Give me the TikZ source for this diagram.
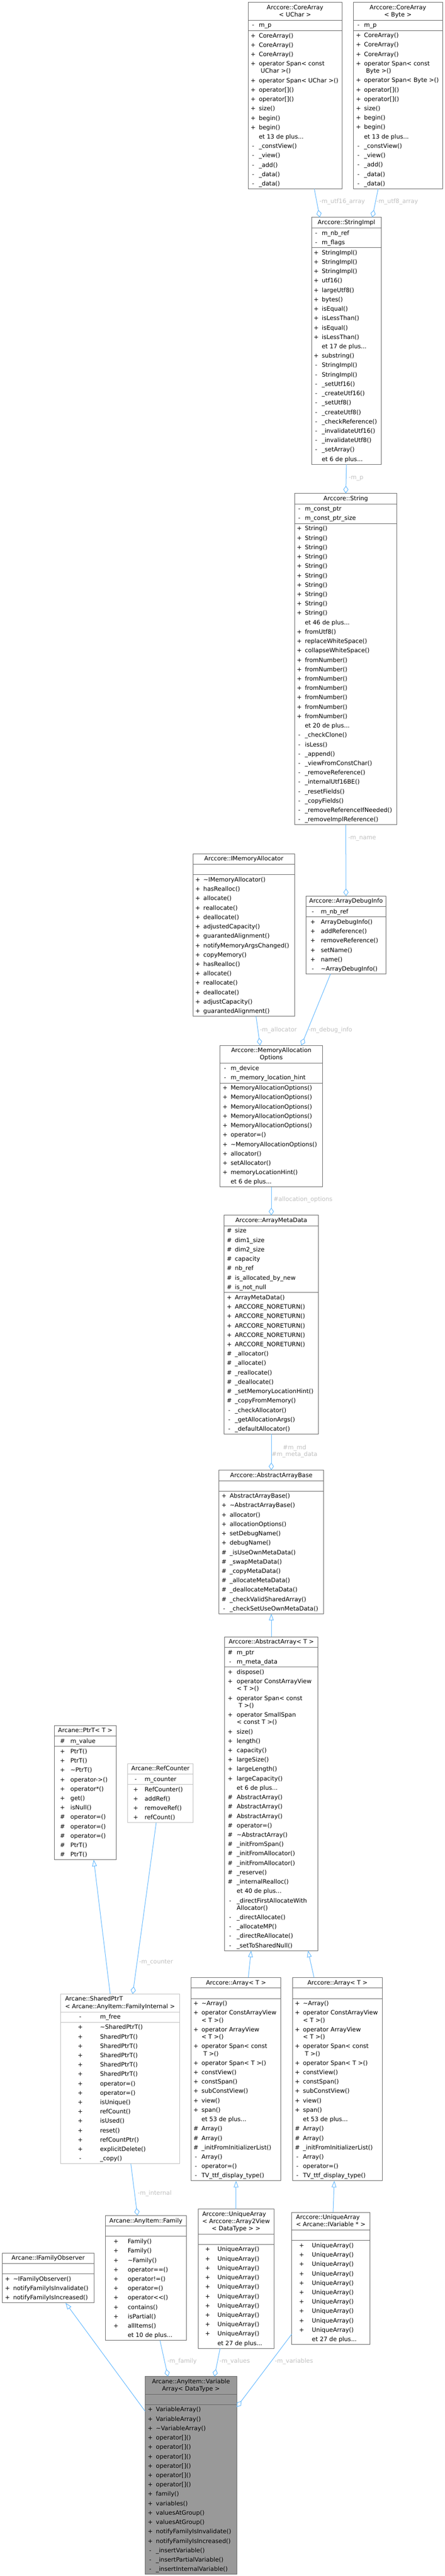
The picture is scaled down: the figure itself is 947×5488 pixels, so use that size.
\documentclass[tikz,border=0pt]{standalone}
\usepackage{fontspec}
\setmainfont{DejaVu Sans}
\usepackage{tikz}
\usetikzlibrary{arrows.meta}
\definecolor{edgeblue}{HTML}{63B8FF}
\definecolor{boxline}{HTML}{666666}
\definecolor{boxlight}{HTML}{BFBFBF}
\definecolor{curfill}{HTML}{999999}
\definecolor{lblgray}{HTML}{C0C0C0}

% class box layout: width, symbol column, name column
\newlength\cbw
\newlength\cbs
\newlength\cbn
\def\sepcol{boxline}
\newcommand{\rowstrut}{\vrule height 14pt depth 6pt width 0pt}
\newcommand{\contstrut}{\vrule height 8.5pt depth 6pt width 0pt}
\newcommand{\mrow}[2]{\hbox to\cbw{\rowstrut\hbox to 2\cbs{\hss#1\hss}\hskip\dimexpr\cbn-2\cbs\relax\relax#2\hfil}}
\newcommand{\mrowii}[3]{\mrow{#1}{#2}\hbox to\cbw{\contstrut\hskip\cbn\relax#3\hfil}}
\newcommand{\rep}[3]{\foreach \k in {1,...,#1}{\mrow{#2}{#3}}}
\newcommand{\more}[1]{\mrow{}{et #1 de plus...}}
\newcommand{\blankrow}{\hbox to\cbw{\rowstrut\hfil}}
\newcommand{\tline}[1]{\hbox to\cbw{\hfil\rowstrut#1\hfil}}
\newcommand{\ttitle}[2]{\hbox to\cbw{\hfil\vbox{\offinterlineskip\halign{##\hfil\cr\rowstrut#1\cr\contstrut\hfil#2\cr}}\hfil}}
\newcommand{\tttitle}[3]{\hbox to\cbw{\hfil\vbox{\offinterlineskip\halign{##\hfil\cr\rowstrut#1\cr\contstrut#2\cr\contstrut\hfil#3\cr}}\hfil}}
\newcommand{\sep}{{\color{\sepcol}\hrule height 1pt}}
\newcommand{\classbody}[6]{\setlength\cbw{#1pt}\setlength\cbs{#2pt}\setlength\cbn{#3pt}%
  \vbox{\offinterlineskip\kern1pt#4\kern1pt\sep\kern.5pt#5\kern.5pt\sep\kern.5pt#6\kern.5pt}}

\begin{document}
\begin{tikzpicture}[x=1pt,y=-1pt]
	\tikzset{
		classnode/.style={draw=boxline, line width=1pt, fill=white, inner sep=0pt, outer sep=0pt, anchor=north west, font=\fontsize{12.7}{20}\selectfont},
		lightnode/.style={classnode, draw=boxlight, execute at begin node={\def\sepcol{boxlight}}},
		curnode/.style={classnode, fill=curfill},
		agg/.style={draw=edgeblue, line width=1.1pt, -{Diamond[open, length=16pt, width=11pt]}},
		inh/.style={draw=edgeblue, line width=1.1pt, {Triangle[open, length=14pt, width=10pt]}-},
		elabel/.style={text=lblgray, inner sep=0pt, anchor=west, font=\fontsize{12.7}{15}\selectfont}
	}
	\useasboundingbox (0,0) rectangle (947,5488);
	
	% Core arrays and strings
	\node (coreUChar) at (528,5) [classnode] {\classbody{200}{11}{23}
		{\ttitle{Arccore::CoreArray}{< UChar >}}
		{\mrow{-}{m\_p}}
		{\rep{3}{+}{CoreArray()}\mrowii{+}{operator Span< const}{ UChar >()}\mrow{+}{operator Span< UChar >()}
		 \rep{2}{+}{operator[]()}\mrow{+}{size()}\rep{2}{+}{begin()}\more{13}
		 \mrow{-}{\_constView()}\mrow{-}{\_view()}\mrow{-}{\_add()}\rep{2}{-}{\_data()}}};
	\node (coreByte) at (752,5) [classnode] {\classbody{190}{11}{23}
		{\ttitle{Arccore::CoreArray}{< Byte >}}
		{\mrow{-}{m\_p}}
		{\rep{3}{+}{CoreArray()}\mrowii{+}{operator Span< const}{ Byte >()}\mrow{+}{operator Span< Byte >()}
		 \rep{2}{+}{operator[]()}\mrow{+}{size()}\rep{2}{+}{begin()}\more{13}
		 \mrow{-}{\_constView()}\mrow{-}{\_view()}\mrow{-}{\_add()}\rep{2}{-}{\_data()}}};
	\node (stringImpl) at (663,463) [classnode] {\classbody{149}{10}{22}
		{\tline{Arccore::StringImpl}}
		{\mrow{-}{m\_nb\_ref}\mrow{-}{m\_flags}}
		{\rep{3}{+}{StringImpl()}\mrow{+}{utf16()}\mrow{+}{largeUtf8()}\mrow{+}{bytes()}
		 \mrow{+}{isEqual()}\mrow{+}{isLessThan()}\mrow{+}{isEqual()}\mrow{+}{isLessThan()}
		 \more{17}\mrow{+}{substring()}\rep{2}{-}{StringImpl()}
		 \mrow{-}{\_setUtf16()}\mrow{-}{\_createUtf16()}\mrow{-}{\_setUtf8()}\mrow{-}{\_createUtf8()}
		 \mrow{-}{\_checkReference()}\mrow{-}{\_invalidateUtf16()}\mrow{-}{\_invalidateUtf8()}
		 \mrow{-}{\_setArray()}\more{6}}};
	\node (string) at (627,1051) [classnode] {\classbody{218}{10}{22}
		{\tline{Arccore::String}}
		{\mrow{-}{m\_const\_ptr}\mrow{-}{m\_const\_ptr\_size}}
		{\rep{10}{+}{String()}\more{46}\mrow{+}{fromUtf8()}\mrow{+}{replaceWhiteSpace()}
		 \mrow{+}{collapseWhiteSpace()}\rep{7}{+}{fromNumber()}\more{20}
		 \mrow{-}{\_checkClone()}\mrow{-}{isLess()}\mrow{-}{\_append()}\mrow{-}{\_viewFromConstChar()}
		 \mrow{-}{\_removeReference()}\mrow{-}{\_internalUtf16BE()}\mrow{-}{\_resetFields()}
		 \mrow{-}{\_copyFields()}\mrow{-}{\_removeReferenceIfNeeded()}\mrow{-}{\_removeImplReference()}}};
	
	% Allocation
	\node (imemAlloc) at (411,1819) [classnode] {\classbody{216}{10}{22}
		{\tline{Arccore::IMemoryAllocator}}
		{\blankrow}
		{\mrow{+}{\textasciitilde IMemoryAllocator()}\mrow{+}{hasRealloc()}\mrow{+}{allocate()}
		 \mrow{+}{reallocate()}\mrow{+}{deallocate()}\mrow{+}{adjustedCapacity()}
		 \mrow{+}{guarantedAlignment()}\mrow{+}{notifyMemoryArgsChanged()}\mrow{+}{copyMemory()}
		 \mrow{+}{hasRealloc()}\mrow{+}{allocate()}\mrow{+}{reallocate()}\mrow{+}{deallocate()}
		 \mrow{+}{adjustCapacity()}\mrow{+}{guarantedAlignment()}}};
	\node (arrayDebug) at (651,1909) [classnode] {\classbody{171}{15}{32}
		{\tline{Arccore::ArrayDebugInfo}}
		{\mrow{-}{m\_nb\_ref}}
		{\mrow{+}{ArrayDebugInfo()}\mrow{+}{addReference()}\mrow{+}{removeReference()}
		 \mrow{+}{setName()}\mrow{+}{name()}\mrow{-}{\textasciitilde ArrayDebugInfo()}}};
	\node (memAllocOpt) at (468,2227) [classnode] {\classbody{219}{11}{23}
		{\ttitle{Arccore::MemoryAllocation}{Options}}
		{\mrow{-}{m\_device}\mrow{-}{m\_memory\_location\_hint}}
		{\rep{5}{+}{MemoryAllocationOptions()}\mrow{+}{operator=()}
		 \mrow{+}{\textasciitilde MemoryAllocationOptions()}\mrow{+}{allocator()}\mrow{+}{setAllocator()}
		 \mrow{+}{memoryLocationHint()}\more{6}}};
	\node (arrayMeta) at (477,2589) [classnode] {\classbody{201}{11}{23}
		{\tline{Arccore::ArrayMetaData}}
		{\mrow{\#}{size}\mrow{\#}{dim1\_size}\mrow{\#}{dim2\_size}\mrow{\#}{capacity}
		 \mrow{\#}{nb\_ref}\mrow{\#}{is\_allocated\_by\_new}\mrow{\#}{is\_not\_null}}
		{\mrow{+}{ArrayMetaData()}\rep{5}{+}{ARCCORE\_NORETURN()}
		 \mrow{\#}{\_allocator()}\mrow{\#}{\_allocate()}\mrow{\#}{\_reallocate()}\mrow{\#}{\_deallocate()}
		 \mrow{\#}{\_setMemoryLocationHint()}\mrow{\#}{\_copyFromMemory()}
		 \mrow{-}{\_checkAllocator()}\mrow{-}{\_getAllocationArgs()}\mrow{-}{\_defaultAllocator()}}};
	
	% Array hierarchy
	\node (absArrayBase) at (466,3132) [classnode] {\classbody{223}{11}{23}
		{\tline{Arccore::AbstractArrayBase}}
		{\blankrow}
		{\mrow{+}{AbstractArrayBase()}\mrow{+}{\textasciitilde AbstractArrayBase()}\mrow{+}{allocator()}
		 \mrow{+}{allocationOptions()}\mrow{+}{setDebugName()}\mrow{+}{debugName()}
		 \mrow{\#}{\_isUseOwnMetaData()}\mrow{\#}{\_swapMetaData()}\mrow{\#}{\_copyMetaData()}
		 \mrow{\#}{\_allocateMetaData()}\mrow{\#}{\_deallocateMetaData()}
		 \mrow{\#}{\_checkValidSharedArray()}\mrow{-}{\_checkSetUseOwnMetaData()}}};
	\node (absArray) at (478,3487) [classnode] {\classbody{199}{12}{26}
		{\tline{Arccore::AbstractArray< T >}}
		{\mrow{\#}{m\_ptr}\mrow{-}{m\_meta\_data}}
		{\mrow{+}{dispose()}\mrowii{+}{operator ConstArrayView}{< T >()}
		 \mrowii{+}{operator Span< const}{ T >()}\mrowii{+}{operator SmallSpan}{< const T >()}
		 \mrow{+}{size()}\mrow{+}{length()}\mrow{+}{capacity()}\mrow{+}{largeSize()}
		 \mrow{+}{largeLength()}\mrow{+}{largeCapacity()}\more{6}
		 \rep{3}{\#}{AbstractArray()}\mrow{\#}{operator=()}\mrow{\#}{\textasciitilde AbstractArray()}
		 \mrow{\#}{\_initFromSpan()}\rep{2}{\#}{\_initFromAllocator()}\mrow{\#}{\_reserve()}
		 \mrow{\#}{\_internalRealloc()}\more{40}
		 \mrowii{-}{\_directFirstAllocateWith}{Allocator()}\mrow{-}{\_directAllocate()}
		 \mrow{-}{\_allocateMP()}\mrow{-}{\_directReAllocate()}\mrow{-}{\_setToSharedNull()}}};
	\foreach \name/\x in {arrayA/407,arrayB/623}
		\node (\name) at (\x,4213) [classnode] {\classbody{191}{10}{22}
			{\tline{Arccore::Array< T >}}
			{\blankrow}
			{\mrow{+}{\textasciitilde Array()}\mrowii{+}{operator ConstArrayView}{< T >()}
			 \mrowii{+}{operator ArrayView}{< T >()}\mrowii{+}{operator Span< const}{ T >()}
			 \mrow{+}{operator Span< T >()}\mrow{+}{constView()}\mrow{+}{constSpan()}
			 \mrow{+}{subConstView()}\mrow{+}{view()}\mrow{+}{span()}\more{53}
			 \rep{2}{\#}{Array()}\mrow{\#}{\_initFromInitializerList()}\mrow{-}{Array()}
			 \mrow{-}{operator=()}\mrow{-}{TV\_ttf\_display\_type()}}};
	\node (uniqueA) at (422,4706) [classnode] {\classbody{161}{20}{41}
		{\tttitle{Arccore::UniqueArray}{< Arccore::Array2View}{< DataType > >}}
		{\blankrow}
		{\rep{10}{+}{UniqueArray()}\more{27}}};
	\node (uniqueB) at (621,4713) [classnode] {\classbody{166}{21}{43}
		{\ttitle{Arccore::UniqueArray}{< Arcane::IVariable * >}}
		{\blankrow}
		{\rep{10}{+}{UniqueArray()}\more{27}}};
	
	% Pointers and family
	\node (ptrT) at (116,3676) [classnode] {\classbody{131}{17}{34}
		{\tline{Arcane::PtrT< T >}}
		{\mrow{\#}{m\_value}}
		{\rep{2}{+}{PtrT()}\mrow{+}{\textasciitilde PtrT()}\mrow{+}{operator->()}\mrow{+}{operator*()}
		 \mrow{+}{get()}\mrow{+}{isNull()}\rep{3}{\#}{operator=()}\rep{2}{\#}{PtrT()}}};
	\node (refCounter) at (272,3757) [lightnode] {\classbody{139}{17}{36}
		{\tline{Arcane::RefCounter}}
		{\mrow{-}{m\_counter}}
		{\mrow{+}{RefCounter()}\mrow{+}{addRef()}\mrow{+}{removeRef()}\mrow{+}{refCount()}}};
	\node (sharedPtr) at (129,4248) [lightnode] {\classbody{253}{42}{84}
		{\ttitle{Arcane::SharedPtrT}{< Arcane::AnyItem::FamilyInternal >}}
		{\mrow{-}{m\_free}}
		{\mrow{+}{\textasciitilde SharedPtrT()}\rep{5}{+}{SharedPtrT()}\rep{2}{+}{operator=()}
		 \mrow{+}{isUnique()}\mrow{+}{refCount()}\mrow{+}{isUsed()}\mrow{+}{reset()}
		 \mrow{+}{refCountPtr()}\mrow{+}{explicitDelete()}\mrow{-}{\_copy()}}};
	\node (family) at (224,4720) [classnode] {\classbody{173}{23}{48}
		{\tline{Arcane::AnyItem::Family}}
		{\blankrow}
		{\rep{2}{+}{Family()}\mrow{+}{\textasciitilde Family()}\mrow{+}{operator==()}\mrow{+}{operator!=()}
		 \mrow{+}{operator=()}\mrow{+}{operator<{}<()}\mrow{+}{contains()}\mrow{+}{isPartial()}
		 \mrow{+}{allItems()}\more{10}}};
	\node (famObserver) at (5,4800) [classnode] {\classbody{195}{11}{23}
		{\tline{Arcane::IFamilyObserver}}
		{\blankrow}
		{\mrow{+}{\textasciitilde IFamilyObserver()}\mrow{+}{notifyFamilyIsInvalidate()}
		 \mrow{+}{notifyFamilyIsIncreased()}}};
	
	% The documented class
	\node (varArray) at (309,5063) [curnode] {\classbody{195}{11}{23}
		{\ttitle{Arcane::AnyItem::Variable}{Array< DataType >}}
		{\blankrow}
		{\rep{2}{+}{VariableArray()}\mrow{+}{\textasciitilde VariableArray()}\rep{6}{+}{operator[]()}
		 \mrow{+}{family()}\mrow{+}{variables()}\rep{2}{+}{valuesAtGroup()}
		 \mrow{+}{notifyFamilyIsInvalidate()}\mrow{+}{notifyFamilyIsIncreased()}
		 \mrow{-}{\_insertVariable()}\mrow{-}{\_insertPartialVariable()}\mrow{-}{\_insertInternalVariable()}}};
	
	% Collaboration edges
	\draw[agg] ([xshift=41pt]coreUChar.south) -- ([xshift=-57pt]stringImpl.north);
	\draw[agg] ([xshift=-42pt]coreByte.south) -- ([xshift=55pt]stringImpl.north);
	\draw[agg] (stringImpl.south) -- (string.north);
	\draw[agg] (string.south) -- (arrayDebug.north);
	\draw[agg] ([xshift=26pt]imemAlloc.south) -- ([xshift=-24pt]memAllocOpt.north);
	\draw[agg] ([xshift=-33pt]arrayDebug.south) -- ([xshift=64pt]memAllocOpt.north);
	\draw[agg] (memAllocOpt.south) -- (arrayMeta.north);
	\draw[agg] (arrayMeta.south) -- (absArrayBase.north);
	\draw[inh] (absArrayBase.south) -- (absArray.north);
	\draw[inh] ([xshift=-43pt]absArray.south) -- ([xshift=26pt]arrayA.north);
	\draw[inh] ([xshift=78pt]absArray.south) -- ([xshift=-50pt]arrayB.north);
	\draw[inh] (arrayA.south) -- (uniqueA.north);
	\draw[inh] ([xshift=-7pt]arrayB.south) -- ([xshift=5pt]uniqueB.north);
	\draw[inh] ([xshift=18pt]ptrT.south) -- ([xshift=-21pt]sharedPtr.north);
	\draw[agg] ([xshift=-9pt]refCounter.south) -- ([xshift=27pt]sharedPtr.north);
	\draw[agg] ([xshift=23pt]sharedPtr.south) -- ([xshift=-18pt]family.north);
	\draw[inh] ([xshift=37pt]famObserver.south) -- ([yshift=-74pt]varArray.north west);
	\draw[agg] ([xshift=30pt]family.south) -- ([xshift=-49pt]varArray.north);
	\draw[agg] ([xshift=-34pt]uniqueA.south) -- ([xshift=50pt]varArray.north);
	\draw[agg] ([yshift=22pt]uniqueB.south west) -- ([yshift=-65pt]varArray.north east);
	
	% Member names on the edges
	\node[elabel] (lUtf16) at (680,430) {-m\_utf16\_array};
	\node[elabel] (lUtf8) at (801,430) {-m\_utf8\_array};
	\node[elabel] (lP) at (742,1019) {-m\_p};
	\node[elabel] (lName) at (741,1787) {-m\_name};
	\node[elabel] (lAlloc) at (553,2195) {-m\_allocator};
	\node[elabel] (lDebug) at (656,2195) {-m\_debug\_info};
	\node[elabel] (lOpts) at (582,2556) {\#allocation\_options};
	\node[elabel, anchor=center, align=center] (lMeta) at (627,3092) {\#m\_md\\\#m\_meta\_data};
	\node[elabel] (lCounter) at (296,4181) {-m\_counter};
	\node[elabel] (lInternal) at (293,4673) {-m\_internal};
	\node[elabel] (lFamily) at (356,5031) {-m\_family};
	\node[elabel] (lValues) at (467,5031) {-m\_values};
	\node[elabel] (lVariables) at (585,5031) {-m\_variables};
\end{tikzpicture}
\end{document}
